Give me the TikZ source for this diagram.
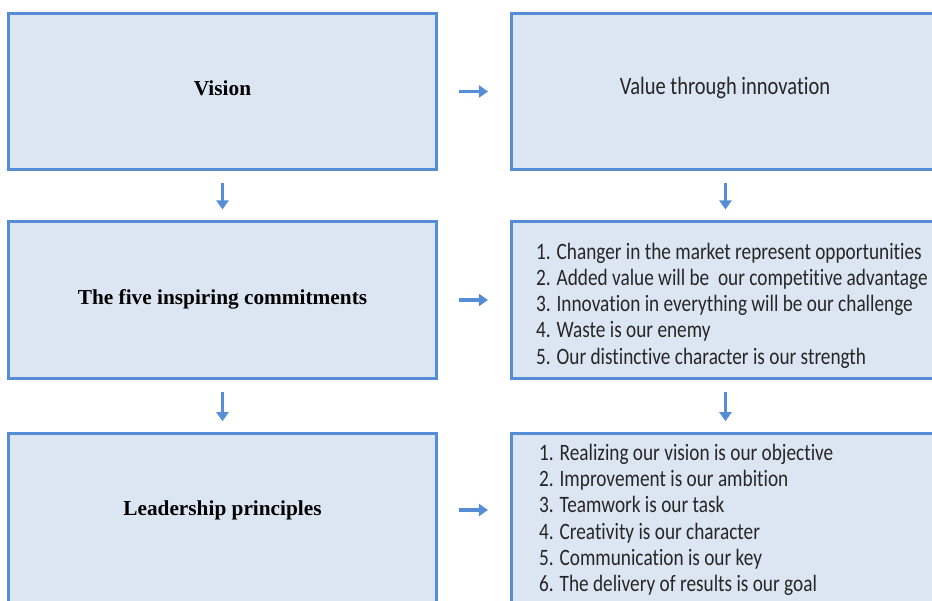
\documentclass[tikz,border=0pt]{standalone}
\usepackage{fontspec}
\setmainfont{Carlito}[FakeStretch=0.82, Ligatures=NoCommon]
\newfontfamily\headfont{Liberation Serif}
\usepackage{xcolor}
\usetikzlibrary{arrows.meta}
\definecolor{boxline}{RGB}{85,142,213}
\definecolor{boxfill}{RGB}{220,230,242}

\begin{document}
\begin{tikzpicture}[x=1pt,y=-1pt,
  box/.style={draw=boxline, fill=boxfill, line width=2.6pt, minimum width=428.5pt, minimum height=156.5pt, inner sep=0pt},
  head/.style={font=\headfont\bfseries\fontsize{21.3}{25}\selectfont, text=black},
  plain/.style={font=\fontsize{25}{28}\selectfont, text=black!85},
  items/.style={font=\fontsize{23.5}{26.3}\selectfont, text=black!85, align=left, anchor=west, inner sep=0pt},
  arr/.style={draw=boxline, line width=3.2pt, -{Triangle[length=9pt,width=12pt]}},
  down/.style={arr, shorten <=12pt, shorten >=11pt},
  across/.style={arr, shorten <=21pt, shorten >=22pt}]
\useasboundingbox (0,0) rectangle (932,600);
\clip (0,0) rectangle (932,600);

% Vision row
\node[box] (vision) at (222.5,91.5) {};
\node[box] (value) at (725.5,91.5) {};
\node[head] (visiontxt) at (222.5,88) {Vision};
\node[plain] (valuetxt) at (725,88) {Value through innovation};

% Commitments row
\node[box] (five) at (222.5,300) {};
\node[box] (commit) at (725.5,300) {};
\node[head] (fivetxt) at (222.5,299) {The five inspiring commitments};
\node[items] (commitlist) at (536,305.5) {1. Changer in the market represent opportunities\\
2. Added value will be \ our competitive advantage\\
3. Innovation in everything will be our challenge\\
4. Waste is our enemy\\
5. Our distinctive character is our strength};

% Leadership row - runs off the bottom
\node[box, minimum height=207pt] (lead) at (222.5,537) {};
\node[box, minimum height=207pt] (princ) at (725.5,537) {};
\node[head] (leadtxt) at (222.5,510) {Leadership principles};
\node[items] (princlist) at (539,520) {1. Realizing our vision is our objective\\
2. Improvement is our ambition\\
3. Teamwork is our task\\
4. Creativity is our character\\
5. Communication is our key\\
6. The delivery of results is our goal};

% arrows
\draw[across] (vision) -- (value);
\draw[across] (five) -- (commit);
\draw[across] (leadtxt -| lead.east) -- (leadtxt -| princ.west);
\draw[down] (vision) -- (five);
\draw[down] (value) -- (commit);
\draw[down] (five) -- (lead);
\draw[down] (commit) -- (princ);
\end{tikzpicture}
\end{document}
